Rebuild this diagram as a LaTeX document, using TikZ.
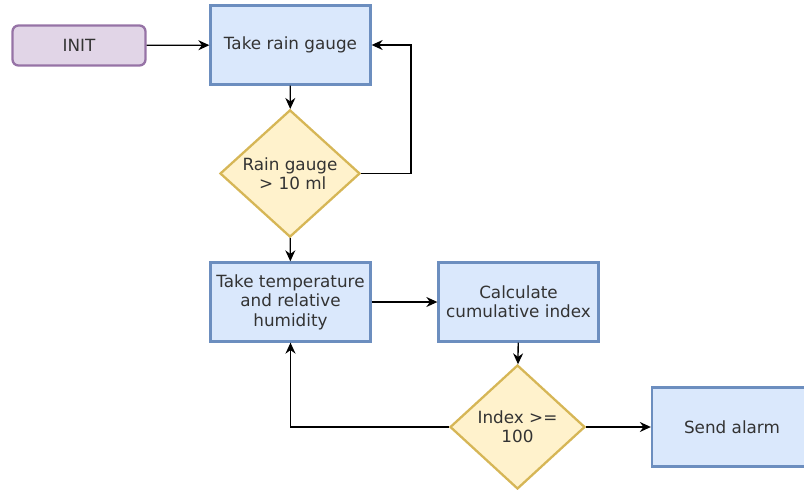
\documentclass[tikz,border=0pt]{standalone}
\usepackage{fontspec}
\setmainfont{DejaVu Sans}
\usepackage{xcolor}
\usetikzlibrary{shapes.geometric,arrows.meta}

\definecolor{boxfill}{HTML}{DAE8FC}
\definecolor{boxline}{HTML}{6C8EBF}
\definecolor{decfill}{HTML}{FFF2CC}
\definecolor{decline}{HTML}{D6B656}
\definecolor{initfill}{HTML}{E1D5E7}
\definecolor{initline}{HTML}{9673A6}
\definecolor{txt}{HTML}{333333}

\begin{document}
\begin{tikzpicture}[x=1pt, y=-1pt,
    every node/.style={font=\fontsize{16.8}{19.4}\selectfont, text=txt, align=center},
    procbox/.style={rectangle, draw=boxline, fill=boxfill, line width=2.3pt, minimum width=160pt, minimum height=79pt, inner sep=1pt},
    decision/.style={diamond, draw=decline, fill=decfill, line width=2.3pt, inner sep=0pt},
    startbox/.style={rectangle, rounded corners=6pt, draw=initline, fill=initfill, line width=2.3pt, minimum width=133pt, minimum height=40pt},
    arr/.style={-{Stealth[length=11pt,width=10pt]}, line width=1.3pt, black}]
            \useasboundingbox (0,0) rectangle (804,490);
            % Nodes
            \node[startbox] (init) at (79,45.5) {INIT};
            \node[procbox] (rain) at (290.5,45) {Take rain gauge};
            \node[decision, minimum width=140pt, minimum height=127pt] (check) at (290,173.5) {Rain gauge\\ \,\,> 10 ml};
            \node[procbox] (temp) at (290.5,302) {Take temperature\\and relative\\humidity};
            \node[procbox] (calc) at (518.5,302) {Calculate\\cumulative index};
            \node[decision, minimum width=135pt, minimum height=124pt] (index) at (517.5,427) {Index >=\\100};
            \node[procbox] (alarm) at (732,427) {Send alarm};
            \coordinate (loopa) at (411,173.5);
            \coordinate (loopb) at (411,45);

            % Edges
            \draw[arr] (init) -- (rain);
            \draw[arr] (rain) -- (check);
            \draw[arr] (check.east) -- (loopa) -- (loopb) -- (rain.east);
            \draw[arr] (check) -- (temp);
            \draw[arr] (temp) -- (calc);
            \draw[arr] (calc) -- (index);
            \draw[arr] (index.west) -| (temp.south);
            \draw[arr] (index) -- (alarm);
        \end{tikzpicture}
\end{document}
